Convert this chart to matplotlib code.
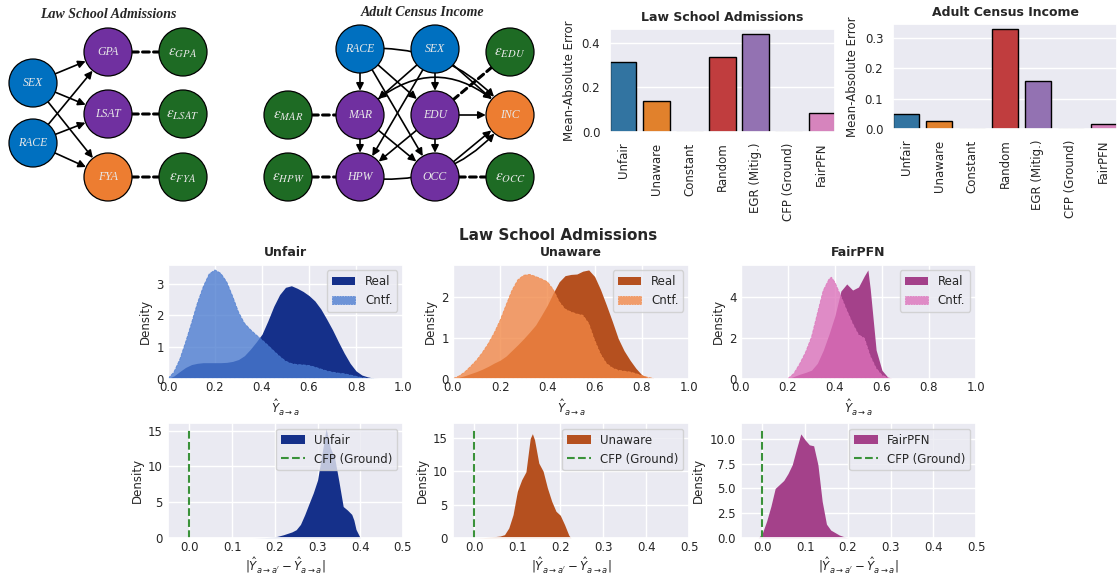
import numpy as np
import matplotlib.pyplot as plt
import seaborn as sns
from matplotlib.patches import Circle, FancyArrowPatch

sns.set_theme(style="darkgrid")
plt.rcParams.update({
    "font.family": ["DejaVu Sans"],
    "font.size": 8.5,
    "axes.titlesize": 9,
    "axes.titleweight": "bold",
    "axes.labelsize": 8.5,
    "xtick.labelsize": 8.5,
    "ytick.labelsize": 8.5,
    "xtick.major.size": 0,
    "ytick.major.size": 0,
    "legend.fontsize": 8.5,
})

# --- error of each method (bar charts) ---
methods = ["Unfair", "Unaware", "Constant", "Random", "EGR (Mitig.)", "CFP (Ground)", "FairPFN"]
mae_law = [0.315, 0.140, 0.0, 0.335, 0.440, 0.0, 0.085]
mae_adult = [0.048, 0.028, 0.0, 0.330, 0.158, 0.0, 0.017]
bar_colors = ["#3274a1", "#e1812c", "#3a923a", "#c03d3e", "#9372b2", "#845b53", "#d684bd"]

# --- predicted outcome densities, real vs counterfactual ---
unfair_real_x = np.linspace(0, 0.9, 37)
unfair_real_y = [0.00, 0.08, 0.22, 0.35, 0.44, 0.48, 0.50, 0.50, 0.50, 0.50, 0.51, 0.54,
                 0.60, 0.72, 0.92, 1.15, 1.40, 1.82, 2.28, 2.65, 2.88, 2.93, 2.85, 2.75,
                 2.62, 2.45, 2.20, 1.88, 1.54, 1.16, 0.80, 0.48, 0.24, 0.11, 0.05, 0.01, 0.00]
unfair_cntf_x = np.linspace(0, 0.875, 36)
unfair_cntf_y = [0.00, 0.20, 0.60, 1.15, 1.75, 2.38, 2.90, 3.30, 3.43, 3.32, 3.05, 2.60,
                 2.10, 1.75, 1.55, 1.38, 1.22, 1.05, 0.87, 0.70, 0.55, 0.47, 0.44, 0.43,
                 0.41, 0.36, 0.30, 0.24, 0.20, 0.17, 0.15, 0.11, 0.07, 0.03, 0.01, 0.00]

unaware_real_x = np.linspace(0, 0.85, 35)
unaware_real_y = [0.00, 0.03, 0.07, 0.12, 0.17, 0.23, 0.30, 0.38, 0.45, 0.55, 0.69, 0.83,
                  0.98, 1.14, 1.31, 1.55, 1.80, 2.10, 2.37, 2.52, 2.55, 2.56, 2.63, 2.66,
                  2.50, 2.18, 1.80, 1.40, 0.98, 0.68, 0.45, 0.25, 0.09, 0.02, 0.00]
unaware_cntf_x = np.linspace(0, 0.85, 35)
unaware_cntf_y = [0.00, 0.06, 0.16, 0.30, 0.45, 0.64, 0.86, 1.12, 1.43, 1.80, 2.16, 2.42,
                  2.53, 2.55, 2.50, 2.44, 2.37, 2.18, 1.88, 1.70, 1.63, 1.58, 1.55, 1.35,
                  0.94, 0.60, 0.37, 0.26, 0.20, 0.18, 0.16, 0.12, 0.07, 0.03, 0.00]

fairpfn_real_x = [0.200, 0.225, 0.250, 0.275, 0.300, 0.325, 0.350, 0.375, 0.400, 0.425,
                  0.450, 0.475, 0.500, 0.525, 0.540, 0.550, 0.560, 0.575, 0.600, 0.625, 0.640]
fairpfn_real_y = [0.00, 0.10, 0.21, 0.30, 0.41, 0.75, 1.39, 2.20, 3.10, 4.30,
                  4.65, 4.35, 4.50, 5.05, 5.34, 4.40, 3.20, 1.40, 0.40, 0.06, 0.00]
fairpfn_cntf_x = [0.200, 0.225, 0.250, 0.275, 0.300, 0.325, 0.350, 0.375, 0.385, 0.400,
                  0.425, 0.450, 0.475, 0.500, 0.525, 0.550, 0.575, 0.600, 0.625, 0.640]
fairpfn_cntf_y = [0.00, 0.25, 0.73, 1.30, 2.04, 3.20, 4.33, 4.90, 4.98, 4.73,
                  4.05, 3.35, 2.70, 2.15, 1.98, 1.10, 0.50, 0.16, 0.03, 0.00]

# --- absolute counterfactual difference densities ---
unfair_diff_x = [0.150, 0.175, 0.200, 0.220, 0.240, 0.250, 0.260, 0.270, 0.280, 0.290, 0.300,
                 0.310, 0.320, 0.330, 0.340, 0.350, 0.360, 0.370, 0.380, 0.385, 0.390, 0.400]
unfair_diff_y = [0.0, 0.05, 0.14, 0.45, 0.85, 1.16, 1.90, 3.26, 4.80, 6.30, 8.10,
                 11.6, 15.3, 12.6, 11.2, 7.9, 4.4, 3.9, 3.3, 2.5, 1.2, 0.0]
unaware_diff_x = [0.000, 0.020, 0.040, 0.060, 0.070, 0.080, 0.090, 0.100, 0.110, 0.120, 0.130,
                  0.135, 0.140, 0.150, 0.160, 0.170, 0.180, 0.190, 0.200, 0.210, 0.220, 0.225]
unaware_diff_y = [0.0, 0.05, 0.15, 0.30, 0.50, 1.50, 3.50, 7.00, 8.70, 9.90, 14.9,
                  15.6, 14.7, 11.2, 10.0, 7.5, 5.5, 4.0, 3.4, 2.0, 0.4, 0.0]
fairpfn_diff_x = [-0.010, 0.000, 0.010, 0.020, 0.030, 0.040, 0.050, 0.060, 0.070, 0.080,
                  0.090, 0.100, 0.110, 0.120, 0.130, 0.140, 0.150, 0.160, 0.180, 0.200]
fairpfn_diff_y = [0.0, 0.5, 1.7, 3.2, 5.0, 5.4, 5.8, 6.5, 7.4, 9.0,
                  10.5, 9.9, 9.4, 9.3, 7.4, 3.7, 1.4, 0.8, 0.3, 0.0]

W, H = 1117, 576
fig = plt.figure(figsize=(W / 100, H / 100), dpi=100)


def px_axes(left, top, right, bottom):
    return fig.add_axes([left / W, 1 - bottom / H, (right - left) / W, (bottom - top) / H])


# --- causal graphs ---
node_fill = {"s": "#0070c0", "m": "#7030a0", "y": "#ed7d31", "e": "#1e6b24"}


def arrow(ax, ca, cb, **kw):
    ax.add_patch(FancyArrowPatch(ca.center, cb.center, patchA=ca, patchB=cb,
                                 color="black", shrinkA=0, shrinkB=0.5, zorder=2, **kw))


def draw_dag(ax, nodes, edges, curved, dashed):
    circ = {}
    for name, (x, y, kind) in nodes.items():
        c = Circle((x, y), 24, fc=node_fill[kind], ec="black", lw=0.9, zorder=3)
        ax.add_patch(c)
        circ[name] = c
        if name.startswith("e"):
            ax.text(x, y + 1, r"$\epsilon_{%s}$" % name[1:], math_fontfamily="stix",
                    fontsize=11, color="#e8e8e8", ha="center", va="center", zorder=4)
        else:
            ax.text(x, y, name, family="Liberation Serif", style="italic", fontsize=8.5,
                    color="#e8e8e8", ha="center", va="center", zorder=4)
    for a, b in edges:
        arrow(ax, circ[a], circ[b], arrowstyle="-|>", mutation_scale=11, lw=1.2)
    for a, b, rad in curved:
        arrow(ax, circ[a], circ[b], arrowstyle="-|>", mutation_scale=11, lw=1.2,
              connectionstyle=f"arc3,rad={rad}")
    for a, b in dashed:
        arrow(ax, circ[a], circ[b], arrowstyle="-", lw=2.2, linestyle=(0, (2.2, 1.4)))


dag_ax = px_axes(0, 0, 560, 215)
dag_ax.set_xlim(0, 560)
dag_ax.set_ylim(215, 0)
dag_ax.axis("off")

law_nodes = {"SEX": (33, 83, "s"), "RACE": (33, 143, "s"),
             "GPA": (108, 52, "m"), "LSAT": (108, 114, "m"), "FYA": (108, 177, "y"),
             "eGPA": (183, 52, "e"), "eLSAT": (183, 114, "e"), "eFYA": (183, 177, "e")}
law_edges = [(s, t) for s in ("SEX", "RACE") for t in ("GPA", "LSAT", "FYA")]
draw_dag(dag_ax, law_nodes, law_edges, [],
         [("GPA", "eGPA"), ("LSAT", "eLSAT"), ("FYA", "eFYA")])

adult_nodes = {"RACE": (360, 49, "s"), "SEX": (435, 49, "s"), "eEDU": (510, 52, "e"),
               "eMAR": (288, 115, "e"), "MAR": (360, 115, "m"), "EDU": (435, 115, "m"),
               "INC": (510, 115, "y"), "eHPW": (288, 177, "e"), "HPW": (360, 177, "m"),
               "OCC": (435, 177, "m"), "eOCC": (510, 177, "e")}
adult_edges = [("RACE", "MAR"), ("RACE", "EDU"), ("RACE", "OCC"),
               ("SEX", "MAR"), ("SEX", "EDU"), ("SEX", "HPW"), ("SEX", "INC"),
               ("MAR", "HPW"), ("MAR", "OCC"), ("EDU", "HPW"), ("EDU", "OCC"),
               ("EDU", "INC"), ("OCC", "INC")]
adult_curved = [("RACE", "INC", -0.27), ("HPW", "INC", 0.3), ("MAR", "INC", -0.5)]
draw_dag(dag_ax, adult_nodes, adult_edges, adult_curved,
         [("eEDU", "EDU"), ("eMAR", "MAR"), ("eHPW", "HPW"), ("OCC", "eOCC")])

dag_ax.text(108, 15, "Law School Admissions", family="Liberation Serif", weight="bold",
            style="italic", fontsize=10, ha="center", va="center")
dag_ax.text(422, 12, "Adult Census Income", family="Liberation Serif", weight="bold",
            style="italic", fontsize=10, ha="center", va="center")

# --- bar charts of mean-absolute error ---
for box, vals, title, yticks in [((610, 29, 835, 132), mae_law, "Law School Admissions", [0, 0.2, 0.4]),
                                 ((893, 24, 1117, 129), mae_adult, "Adult Census Income", [0, 0.1, 0.2, 0.3])]:
    ax = px_axes(*box)
    pos = np.arange(len(methods))
    ax.bar(pos, vals, width=0.8, color=bar_colors, edgecolor="black", lw=1, zorder=2)
    ax.axhline(0, color="#c8c8c8", ls="--", lw=1, zorder=1)
    ax.set_xlim(-0.4, 6.4)
    ax.set_ylim(0, max(vals) * 1.05)
    ax.set_xticks(pos)
    ax.set_xticklabels(methods, rotation=90)
    ax.set_yticks(yticks)
    ax.tick_params(axis="x", pad=7.5)
    ax.tick_params(axis="y", pad=7)
    ax.xaxis.grid(False)
    ax.set_ylabel("Mean-Absolute Error")
    ax.set_title(title)

fig.text(0.5, 1 - 235 / H, "Law School Admissions", ha="center", va="center",
         fontweight="bold", fontsize=11)

# --- real vs counterfactual prediction densities ---
cols = [(168, 403), (453, 689), (741, 976)]
pair_specs = [
    ("Unfair", unfair_real_x, unfair_real_y, unfair_cntf_x, unfair_cntf_y, "#15308a", "#4a7bd0", [0, 1, 2, 3]),
    ("Unaware", unaware_real_x, unaware_real_y, unaware_cntf_x, unaware_cntf_y, "#b5501f", "#f28745", [0, 1, 2]),
    ("FairPFN", fairpfn_real_x, fairpfn_real_y, fairpfn_cntf_x, fairpfn_cntf_y, "#a4418a", "#dd71ba", [0, 2, 4]),
]
for (l, r), (title, xr, yr, xc, yc, c_real, c_cntf, yt) in zip(cols, pair_specs):
    ax = px_axes(l, 264.5, r, 378.5)
    ax.fill_between(xr, yr, color=c_real, lw=0, label="Real")
    ax.fill_between(xc, yc, facecolor=c_cntf, edgecolor=c_cntf, alpha=0.78, lw=0.6, ls="--", label="Cntf.")
    ax.set_xlim(0, 1)
    ax.set_ylim(0, max(max(yr), max(yc)) * 1.05)
    ax.set_xticks([0, 0.2, 0.4, 0.6, 0.8, 1.0])
    ax.set_yticks(yt)
    ax.tick_params(axis="x", pad=1.5)
    ax.tick_params(axis="y", pad=3)
    ax.set_title(title)
    ax.set_ylabel("Density", labelpad=3)
    ax.set_xlabel(r"$\hat{Y}_{a \rightarrow a}$", labelpad=3)
    ax.legend(loc="upper right")

# --- absolute counterfactual difference ---
diff_specs = [
    ("Unfair", unfair_diff_x, unfair_diff_y, "#15308a", 16.07, [0, 5, 10, 15]),
    ("Unaware", unaware_diff_x, unaware_diff_y, "#b5501f", 17.2, [0, 5, 10, 15]),
    ("FairPFN", fairpfn_diff_x, fairpfn_diff_y, "#a4418a", 11.6, [0, 2.5, 5.0, 7.5, 10.0]),
]
for (l, r), (label, x, y, color, ytop, yt) in zip(cols, diff_specs):
    ax = px_axes(l, 423, r, 538)
    fill = ax.fill_between(x, y, color=color, lw=0, label=label)
    vline = ax.axvline(0, ymax=1 / 1.05, color="#3a923a", ls="--", lw=1.5, label="CFP (Ground)")
    ax.set_xlim(-0.05, 0.5)
    ax.set_ylim(0, ytop)
    ax.set_xticks([0, 0.1, 0.2, 0.3, 0.4, 0.5])
    ax.set_yticks(yt)
    if label == "FairPFN":
        ax.set_yticklabels(["0.0", "2.5", "5.0", "7.5", "10.0"])
    ax.tick_params(axis="x", pad=2)
    ax.tick_params(axis="y", pad=4)
    ax.set_ylabel("Density", labelpad=3)
    ax.set_xlabel(r"$|\hat{Y}_{a \rightarrow a^{\prime}} - \hat{Y}_{a \rightarrow a}|$", labelpad=1)
    ax.legend(handles=[fill, vline], loc="upper right")

fig.savefig("out.png", dpi=100)
